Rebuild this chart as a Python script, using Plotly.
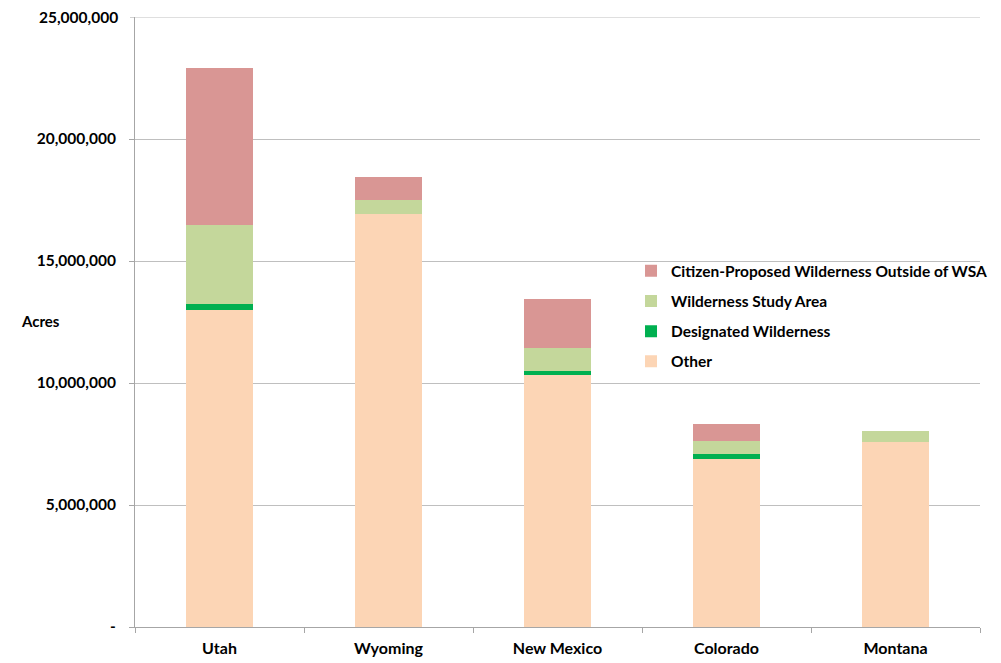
import plotly.graph_objects as go

states = ["Utah", "Wyoming", "New Mexico", "Colorado", "Montana"]
other = [12990000, 16930000, 10310000, 6870000, 7580000]
designated = [260000, 0, 180000, 220000, 0]
wsa = [3230000, 570000, 940000, 530000, 450000]
citizen = [6430000, 930000, 2000000, 700000, 0]

y_max = 25000000
tick_vals = [0, 5000000, 10000000, 15000000, 20000000]
tick_text = ["-", "5,000,000", "10,000,000", "15,000,000", "20,000,000"]
top_label = "25,000,000"

series = [
    ("Other", other, "#FCD5B5", 4),
    ("Designated Wilderness", designated, "#00B050", 3),
    ("Wilderness Study Area", wsa, "#C4D79B", 2),
    ("Citizen-Proposed Wilderness Outside of WSA", citizen, "#D99694", 1),
]

font_family = "Lato, 'Open Sans', Arial, sans-serif"

fig = go.Figure()
for name, vals, color, rank in series:
    fig.add_trace(go.Bar(
        x=states, y=vals, name=name, legendgroup=name, legendrank=rank,
        marker=dict(color=color, line=dict(width=0)),
        width=0.4,
    ))

fig.update_layout(
    barmode="stack",
    width=1001, height=663,
    margin=dict(l=127, r=29, t=9, b=44),
    plot_bgcolor="white", paper_bgcolor="white",
    font=dict(family=font_family, size=15, color="#000000", weight="bold"),
    showlegend=True,
    legend=dict(
        traceorder="grouped",
        x=0.587, y=0.611, xanchor="left", yanchor="top",
        font=dict(size=15.5, family=font_family, weight="bold"),
        itemwidth=30, tracegroupgap=7,
        bgcolor="rgba(0,0,0,0)",
    ),
    xaxis=dict(
        automargin=False,
        showline=True, linecolor="#A6A6A6", linewidth=1,
        ticks="outside", tickson="boundaries", ticklen=5, tickcolor="#A6A6A6",
        tickfont=dict(size=16, family=font_family, weight="bold"),
        ticklabelstandoff=7,
        showgrid=False,
    ),
    yaxis=dict(
        automargin=False,
        range=[0, y_max],
        tickvals=tick_vals, ticktext=tick_text,
        showline=True, linecolor="#A6A6A6", linewidth=1,
        ticks="outside", ticklen=5, tickcolor="#A6A6A6",
        showgrid=True, gridcolor="#BFBFBF", gridwidth=1,
        zeroline=False,
        tickfont=dict(size=15.5, family=font_family, weight="bold"),
        ticklabelstandoff=10,
    ),
    shapes=[
        dict(type="line", xref="paper", yref="y", x0=0, x1=1, y0=y_max, y1=y_max,
             line=dict(color="#BFBFBF", width=1)),
        dict(type="line", xref="paper", yref="y", x0=-0.0059, x1=0, y0=y_max, y1=y_max,
             line=dict(color="#A6A6A6", width=1)),
    ],
    annotations=[
        dict(
            text="Acres", xref="paper", yref="paper",
            x=-0.1375, y=0.502, xanchor="left", yanchor="middle",
            showarrow=False, font=dict(size=15, family=font_family, weight="bold"),
        ),
        dict(
            text=top_label, xref="paper", yref="y",
            x=0, y=y_max, xanchor="right", yanchor="middle", xshift=-15,
            showarrow=False, font=dict(size=15.5, family=font_family, weight="bold"),
        ),
    ],
)

fig.write_html("out.html")
